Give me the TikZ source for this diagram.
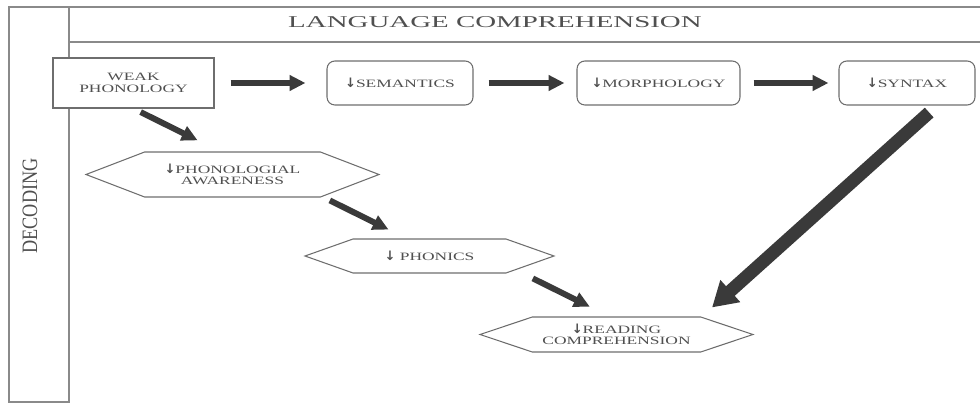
\documentclass[tikz,border=0pt]{standalone}
\usepackage{fontspec}
\setmainfont{Liberation Serif}
\newfontfamily\headfont[FakeStretch=1.75]{Liberation Serif}
\newfontfamily\boxfont[FakeStretch=1.55]{Liberation Serif}
\newfontfamily\sidefont[FakeStretch=0.83]{Liberation Serif}
\newfontfamily\arrowfont{DejaVu Sans Bold}
\newcommand{\downmark}{{\arrowfont\fontsize{7.4}{7.4}\selectfont ↓}}
\usetikzlibrary{arrows.meta,shapes.symbols}
\definecolor{framegray}{HTML}{8A8A8A}
\definecolor{boxgray}{HTML}{6E6E6E}
\definecolor{inkgray}{HTML}{505050}
\definecolor{arrowgray}{HTML}{3A3A3A}

\begin{document}
\begin{tikzpicture}[
  box/.style={draw=boxgray, line width=0.6pt, fill=white, text=inkgray, align=center,
    inner sep=0pt, font=\boxfont\fontsize{6.4}{6.5}\selectfont},
  roundbox/.style={box, rounded corners=4.5pt, minimum height=0.88cm},
  hexbox/.style={box, signal, signal to=west and east},
  fat/.style={arrowgray, line width=3.4pt, -{Triangle[length=9pt,width=8.5pt]}},
  fatter/.style={arrowgray, line width=7.4pt, -{Triangle[length=14pt,width=16pt]}}
]
\useasboundingbox (0,0) rectangle (19.6,-8.06);
% frame
\draw[framegray, line width=0.8pt] (19.6,-0.14) -- (0.18,-0.14) -- (0.18,-8.04) -- (1.38,-8.04) -- (1.38,-0.14);
\draw[framegray, line width=0.8pt] (1.38,-0.84) -- (19.6,-0.84);
\node[text=inkgray, font=\headfont\fontsize{9.4}{10}\selectfont] (lc) at (9.9,-0.44) {LANGUAGE COMPREHENSION};
\node[text=inkgray, font=\sidefont\fontsize{12.5}{12.5}\selectfont, rotate=90] (dec) at (0.6,-4.12) {DECODING};

% top row
\node[box, minimum width=3.22cm, minimum height=1.0cm] (weak) at (2.67,-1.66) {WEAK\\PHONOLOGY};
\node[roundbox, minimum width=2.92cm] (sem) at (8.0,-1.66) {\downmark SEMANTICS};
\node[roundbox, minimum width=3.26cm] (morph) at (13.17,-1.66) {\downmark MORPHOLOGY};
\node[roundbox, minimum width=2.72cm] (syn) at (18.14,-1.66) {\downmark SYNTAX};

% decoding path
\node[hexbox, minimum width=5.86cm, minimum height=0.9cm, signal pointer angle=42] (pa) at (4.65,-3.49) {\downmark PHONOLOGIAL\\AWARENESS};
\node[hexbox, minimum width=4.98cm, minimum height=0.68cm, signal pointer angle=39] (phon) at (8.59,-5.12) {\downmark\ PHONICS};
\node[hexbox, minimum width=5.46cm, minimum height=0.70cm, signal pointer angle=37] (read) at (12.33,-6.69) {\downmark READING\\COMPREHENSION};

% arrows
\draw[fat, shorten <=0.32cm, shorten >=0.42cm] (weak.east) -- (sem.west);
\draw[fat, shorten <=0.3cm, shorten >=0.24cm] (sem.east) -- (morph.west);
\draw[fat, shorten <=0.26cm, shorten >=0.2cm] (morph.east) -- (syn.west);
\draw[fat, shorten <=0.16cm, shorten >=0.5cm] (weak.south) -- ([xshift=-0.25cm]pa.north);
\draw[fat, shorten <=0.13cm, shorten >=0.4cm] ([xshift=1.83cm]pa.south) -- ([xshift=-0.46cm]phon.north);
\draw[fat, shorten <=0.22cm, shorten >=0.44cm] ([xshift=1.87cm]phon.south) -- ([xshift=-0.14cm]read.north);
\draw[fatter, shorten <=0.21cm, shorten >=0.27cm] ([xshift=0.6cm]syn.south) -- ([xshift=1.71cm]read.north);
\end{tikzpicture}
\end{document}
